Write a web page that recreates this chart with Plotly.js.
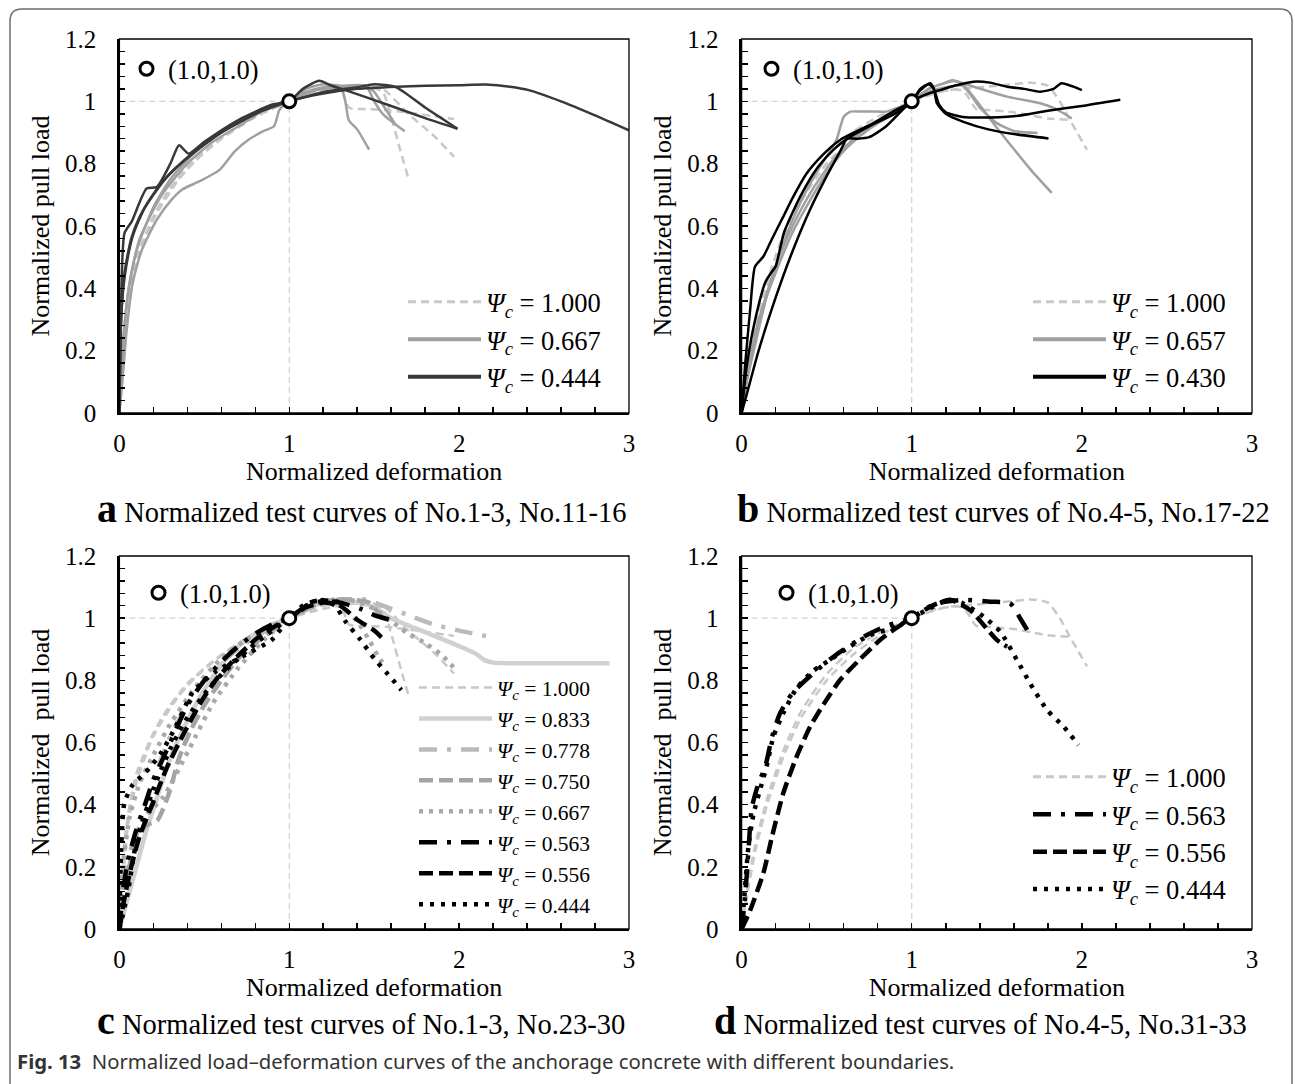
<!DOCTYPE html>
<html><head><meta charset="utf-8">
<script src="https://cdn.plot.ly/plotly-3.0.1.min.js"></script>
<style>html,body{margin:0;padding:0;background:#fff}#chart{width:1295px;height:1084px}</style>
</head><body><div id="chart"></div>
<script>
// ---------------- DATA ----------------
// Panel a : Psi_c = 1.000 (No.1-3)
const a100_1_x = [0, 0.01, 0.03, 0.06, 0.1, 0.2, 0.3, 0.45, 0.6, 0.8, 1.0, 1.15, 1.3, 1.35, 1.45, 1.57, 1.75, 1.97];
const a100_1_y = [0, 0.12, 0.28, 0.40, 0.50, 0.63, 0.72, 0.81, 0.88, 0.95, 1.0, 1.035, 1.045, 0.98, 0.975, 0.972, 0.96, 0.943];
const a100_2_x = [0, 0.02, 0.05, 0.1, 0.2, 0.35, 0.5, 0.7, 0.9, 1.0, 1.2, 1.45, 1.55, 1.6, 1.65, 1.7];
const a100_2_y = [0, 0.15, 0.33, 0.47, 0.62, 0.75, 0.84, 0.92, 0.98, 1.0, 1.03, 1.05, 1.03, 0.95, 0.85, 0.755];
const a100_3_x = [0, 0.02, 0.05, 0.12, 0.25, 0.4, 0.6, 0.8, 1.0, 1.2, 1.4, 1.55, 1.7, 1.85, 1.97];
const a100_3_y = [0, 0.18, 0.36, 0.52, 0.68, 0.79, 0.88, 0.95, 1.0, 1.04, 1.05, 1.04, 0.96, 0.89, 0.822];
// Panel a : Psi_c = 0.667
const a667_1_x = [0, 0.017, 0.04, 0.078, 0.13, 0.22, 0.3, 0.37, 0.47, 0.59, 0.68, 0.76, 0.85, 0.91, 0.94, 0.97, 1.0, 1.1, 1.2, 1.3, 1.33, 1.35, 1.4, 1.47];
const a667_1_y = [0, 0.096, 0.25, 0.417, 0.52, 0.62, 0.68, 0.717, 0.743, 0.78, 0.84, 0.877, 0.905, 0.92, 0.97, 0.99, 1.0, 1.03, 1.045, 1.048, 1.0, 0.94, 0.91, 0.845];
const a667_2_x = [0, 0.02, 0.05, 0.1, 0.2, 0.3, 0.45, 0.6, 0.8, 1.0, 1.1, 1.2, 1.3, 1.45, 1.5, 1.55, 1.68];
const a667_2_y = [0, 0.2, 0.38, 0.52, 0.66, 0.75, 0.84, 0.9, 0.96, 1.0, 1.04, 1.055, 1.05, 1.05, 1.0, 0.96, 0.904];
const a667_3_x = [0, 0.02, 0.06, 0.12, 0.25, 0.4, 0.55, 0.7, 0.85, 1.0, 1.15, 1.3, 1.45, 1.5, 1.55, 1.62];
const a667_3_y = [0, 0.22, 0.42, 0.56, 0.7, 0.8, 0.87, 0.92, 0.97, 1.0, 1.035, 1.045, 1.05, 1.03, 0.99, 0.93];
// Panel a : Psi_c = 0.444
const a444_1_x = [0, 0.005, 0.015, 0.04, 0.08, 0.15, 0.25, 0.4, 0.6, 0.8, 1.0, 1.2, 1.4, 1.63, 1.8, 2.0, 2.155, 2.3, 2.41, 2.6, 2.8, 3.0];
const a444_1_y = [0, 0.2, 0.35, 0.47, 0.57, 0.66, 0.74, 0.82, 0.9, 0.96, 1.0, 1.025, 1.04, 1.047, 1.05, 1.052, 1.054, 1.047, 1.036, 1.0, 0.955, 0.907];
const a444_2_x = [0, 0.01, 0.03, 0.073, 0.16, 0.22, 0.3, 0.351, 0.408, 0.5, 0.7, 0.9, 1.0, 1.08, 1.176, 1.25, 1.33, 1.6, 1.8, 1.99];
const a444_2_y = [0, 0.35, 0.577, 0.615, 0.72, 0.725, 0.8, 0.859, 0.832, 0.87, 0.94, 0.99, 1.0, 1.04, 1.066, 1.05, 1.036, 0.985, 0.946, 0.912];
const a444_3_x = [0, 0.01, 0.03, 0.07, 0.12, 0.2, 0.3, 0.45, 0.6, 0.8, 0.95, 1.0, 1.2, 1.4, 1.5, 1.63, 1.8, 1.99];
const a444_3_y = [0, 0.3, 0.45, 0.56, 0.63, 0.7, 0.77, 0.84, 0.9, 0.96, 0.995, 1.0, 1.03, 1.045, 1.055, 1.045, 0.98, 0.912];

// Panel b : Psi_c = 1.000 (No.4-5)
const b100_1_x = [0, 0.03, 0.08, 0.15, 0.25, 0.35, 0.5, 0.65, 0.8, 1.0, 1.2, 1.4, 1.6, 1.7, 1.8, 1.87, 1.93, 2.03];
const b100_1_y = [0, 0.12, 0.27, 0.42, 0.58, 0.7, 0.82, 0.9, 0.95, 1.0, 1.035, 1.045, 1.055, 1.06, 1.05, 1.0, 0.94, 0.845];
const b100_2_x = [0, 0.03, 0.08, 0.15, 0.25, 0.35, 0.5, 0.65, 0.8, 1.0, 1.15, 1.3, 1.38, 1.45, 1.6, 1.7, 1.8, 1.94];
const b100_2_y = [0, 0.1, 0.25, 0.4, 0.56, 0.68, 0.8, 0.88, 0.94, 1.0, 1.03, 1.035, 0.975, 0.972, 0.965, 0.955, 0.945, 0.94];
// Panel b : Psi_c = 0.657
const b657_1_x = [0, 0.03, 0.08, 0.15, 0.25, 0.35, 0.45, 0.52, 0.56, 0.6, 0.64, 0.7, 0.8, 0.85, 0.92, 1.0, 1.1, 1.2, 1.236, 1.3, 1.5, 1.7, 1.823];
const b657_1_y = [0, 0.1, 0.22, 0.38, 0.55, 0.68, 0.78, 0.84, 0.88, 0.95, 0.967, 0.967, 0.967, 0.967, 0.98, 1.0, 1.04, 1.06, 1.068, 1.055, 0.915, 0.78, 0.706];
const b657_2_x = [0, 0.04, 0.1, 0.2, 0.3, 0.4, 0.5, 0.6, 0.7, 0.8, 0.9, 1.0, 1.1, 1.25, 1.363, 1.56, 1.755, 1.85, 1.941];
const b657_2_y = [0, 0.14, 0.3, 0.45, 0.58, 0.68, 0.77, 0.84, 0.89, 0.93, 0.96, 1.0, 1.04, 1.065, 1.047, 1.015, 0.994, 0.975, 0.945];
const b657_3_x = [0, 0.05, 0.12, 0.2, 0.3, 0.42, 0.55, 0.7, 0.85, 1.0, 1.1, 1.2, 1.3, 1.4, 1.5, 1.6, 1.74];
const b657_3_y = [0, 0.18, 0.33, 0.47, 0.6, 0.72, 0.82, 0.9, 0.95, 1.0, 1.03, 1.045, 1.05, 0.98, 0.93, 0.905, 0.898];
// Panel b : Psi_c = 0.430
const b430_1_x = [0, 0.02, 0.05, 0.079, 0.128, 0.18, 0.245, 0.3, 0.383, 0.48, 0.579, 0.68, 0.775, 0.9, 1.0, 1.05, 1.108, 1.13, 1.148, 1.2, 1.3, 1.45, 1.6, 1.804];
const b430_1_y = [0, 0.15, 0.33, 0.47, 0.502, 0.56, 0.63, 0.69, 0.769, 0.83, 0.876, 0.905, 0.93, 0.97, 1.0, 1.035, 1.058, 1.04, 0.994, 0.96, 0.935, 0.91, 0.895, 0.881];
const b430_2_x = [0, 0.03, 0.08, 0.14, 0.18, 0.2, 0.25, 0.35, 0.45, 0.55, 0.65, 0.75, 0.9, 1.0, 1.05, 1.1, 1.13, 1.16, 1.2, 1.3, 1.4, 1.6, 1.8, 2.0, 2.226];
const b430_2_y = [0, 0.15, 0.3, 0.42, 0.455, 0.47, 0.58, 0.7, 0.79, 0.85, 0.89, 0.92, 0.96, 1.0, 1.04, 1.055, 1.04, 0.99, 0.965, 0.95, 0.948, 0.952, 0.97, 0.985, 1.005];
const b430_3_x = [0, 0.05, 0.1, 0.2, 0.3, 0.4, 0.5, 0.58, 0.62, 0.68, 0.75, 0.85, 1.0, 1.1, 1.167, 1.25, 1.363, 1.46, 1.56, 1.66, 1.755, 1.834, 1.88, 1.951, 2.0];
const b430_3_y = [0, 0.1, 0.2, 0.37, 0.52, 0.65, 0.76, 0.84, 0.88, 0.88, 0.885, 0.92, 1.0, 1.025, 1.036, 1.05, 1.063, 1.06, 1.047, 1.04, 1.031, 1.04, 1.058, 1.047, 1.036];

// Panel c (Psi_c = 1.000 curves are No.1-3, same as panel a)
const c833_x = [0, 0.05, 0.1, 0.15, 0.22, 0.3, 0.4, 0.5, 0.6, 0.7, 0.8, 0.9, 1.0, 1.1, 1.2, 1.3, 1.4, 1.5, 1.6, 1.8, 2.0, 2.1, 2.15, 2.2, 2.4, 2.6, 2.885];
const c833_y = [0, 0.1, 0.2, 0.3, 0.42, 0.55, 0.67, 0.77, 0.85, 0.91, 0.95, 0.98, 1.0, 1.03, 1.05, 1.055, 1.05, 1.035, 1.0, 0.955, 0.91, 0.885, 0.865, 0.857, 0.855, 0.855, 0.855];
const c778_x = [0, 0.04, 0.1, 0.2, 0.3, 0.4, 0.5, 0.65, 0.8, 1.0, 1.2, 1.35, 1.45, 1.55, 1.7, 1.85, 2.0, 2.18];
const c778_y = [0, 0.15, 0.3, 0.48, 0.62, 0.72, 0.8, 0.88, 0.94, 1.0, 1.05, 1.06, 1.06, 1.04, 1.01, 0.98, 0.96, 0.94];
const c750_x = [0, 0.03, 0.08, 0.15, 0.225, 0.3, 0.347, 0.42, 0.5, 0.6, 0.7, 0.8, 0.9, 1.0, 1.1, 1.2, 1.3, 1.4, 1.47, 1.55];
const c750_y = [0, 0.12, 0.25, 0.33, 0.351, 0.45, 0.544, 0.64, 0.72, 0.8, 0.87, 0.92, 0.96, 1.0, 1.035, 1.055, 1.06, 1.058, 1.05, 1.0];
const c667_1_x = [0, 0.03, 0.08, 0.15, 0.26, 0.41, 0.55, 0.7, 0.85, 1.0, 1.2, 1.35, 1.5, 1.6, 1.7, 1.8, 1.9, 1.98];
const c667_1_y = [0, 0.15, 0.28, 0.36, 0.426, 0.578, 0.726, 0.84, 0.93, 1.0, 1.055, 1.06, 1.03, 0.99, 0.95, 0.92, 0.88, 0.834];
const c667_2_x = [0, 0.02, 0.06, 0.12, 0.2, 0.3, 0.45, 0.6, 0.8, 1.0, 1.2, 1.3, 1.4, 1.47, 1.52, 1.57];
const c667_2_y = [0, 0.2, 0.36, 0.47, 0.56, 0.66, 0.78, 0.87, 0.95, 1.0, 1.05, 1.04, 0.99, 0.93, 0.88, 0.84];
const c563_x = [0, 0.02, 0.05, 0.1, 0.15, 0.2, 0.3, 0.4, 0.5, 0.6, 0.7, 0.8, 0.9, 1.0, 1.1, 1.2, 1.3, 1.42, 1.5, 1.59];
const c563_y = [0, 0.12, 0.22, 0.32, 0.4, 0.48, 0.6, 0.72, 0.8, 0.86, 0.91, 0.95, 0.98, 1.0, 1.04, 1.055, 1.05, 1.03, 1.01, 0.995];
const c556_x = [0, 0.03, 0.07, 0.12, 0.2, 0.28, 0.38, 0.48, 0.58, 0.7, 0.82, 0.92, 1.0, 1.1, 1.2, 1.3, 1.4, 1.5, 1.567];
const c556_y = [0, 0.1, 0.2, 0.3, 0.41, 0.52, 0.63, 0.73, 0.81, 0.88, 0.94, 0.975, 1.0, 1.035, 1.05, 1.04, 0.995, 0.96, 0.925];
const c444_1_x = [0, 0.01, 0.029, 0.078, 0.127, 0.176, 0.25, 0.33, 0.432, 0.566, 0.725, 0.896, 1.0, 1.08, 1.15, 1.2, 1.27, 1.33, 1.42, 1.5, 1.58, 1.66];
const c444_1_y = [0, 0.25, 0.405, 0.464, 0.49, 0.517, 0.57, 0.65, 0.762, 0.828, 0.877, 0.93, 1.0, 1.04, 1.055, 1.058, 1.04, 0.99, 0.93, 0.87, 0.82, 0.769];
const c444_2_x = [0, 0.05, 0.1, 0.2, 0.3, 0.4, 0.55, 0.7, 0.85, 1.0, 1.15, 1.25, 1.3];
const c444_2_y = [0, 0.12, 0.28, 0.45, 0.58, 0.68, 0.79, 0.87, 0.94, 1.0, 1.055, 1.055, 1.05];

// Panel d (Psi_c = 1.000 curves are No.4-5, same as panel b)
const d563_x = [0, 0.02, 0.04, 0.06, 0.1, 0.138, 0.18, 0.226, 0.3, 0.422, 0.55, 0.716, 0.85, 1.0, 1.08, 1.147, 1.3, 1.461, 1.578, 1.637, 1.696];
const d563_y = [0, 0.1, 0.25, 0.39, 0.47, 0.52, 0.62, 0.694, 0.76, 0.823, 0.88, 0.94, 0.975, 1.0, 1.03, 1.048, 1.059, 1.053, 1.048, 1.0, 0.946];
const d556_x = [0, 0.05, 0.128, 0.18, 0.245, 0.32, 0.403, 0.49, 0.579, 0.7, 0.814, 0.9, 1.0, 1.108, 1.225, 1.343, 1.42, 1.5, 1.56];
const d556_y = [0, 0.06, 0.18, 0.3, 0.437, 0.55, 0.651, 0.73, 0.801, 0.87, 0.93, 0.965, 1.0, 1.037, 1.059, 1.026, 0.98, 0.93, 0.908];
const d444_x = [0, 0.01, 0.04, 0.07, 0.108, 0.15, 0.187, 0.25, 0.324, 0.42, 0.52, 0.64, 0.755, 0.912, 1.0, 1.1, 1.216, 1.3, 1.422, 1.52, 1.618, 1.696, 1.795, 1.893, 1.98];
const d444_y = [0, 0.06, 0.265, 0.37, 0.447, 0.53, 0.619, 0.7, 0.775, 0.83, 0.866, 0.91, 0.946, 0.973, 1.0, 1.03, 1.059, 1.048, 1.005, 0.957, 0.866, 0.79, 0.705, 0.651, 0.592];

// Normalisation point and ticks
const refX = [1.0];
const refY = [1.0];
const refLabel = '(1.0,1.0)';
const xTickVals = [0, 1, 2, 3];
const xTickText = ['0', '1', '2', '3'];
const yTickVals = [0, 0.2, 0.4, 0.6, 0.8, 1.0, 1.2];
const yTickText = ['0', '0.2', '0.4', '0.6', '0.8', '1', '1.2'];
const legendA = ['1.000', '0.667', '0.444'];
const legendB = ['1.000', '0.657', '0.430'];
const legendC = ['1.000', '0.833', '0.778', '0.750', '0.667', '0.563', '0.556', '0.444'];
const legendD = ['1.000', '0.563', '0.556', '0.444'];
const panelLetters = ['a', 'b', 'c', 'd'];
const panelCaptions = ['Normalized test curves of No.1-3, No.11-16', 'Normalized test curves of No.4-5, No.17-22',
                       'Normalized test curves of No.1-3, No.23-30', 'Normalized test curves of No.4-5, No.31-33'];
const xTitle = 'Normalized deformation';
const yTitles = ['Normalized pull load', 'Normalized pull load', 'Normalized\u00a0 pull load', 'Normalized\u00a0 pull load'];
const figCaptionBold = 'Fig. 13';
const figCaption = 'Normalized load\u2013deformation curves of the anchorage concrete with different boundaries.';

// ---------------- STYLE ----------------
const W = 1295, H = 1084;
const SERIF = 'Liberation Serif, Times New Roman, serif';
const ST = {
  light:  {color: '#c8c8c8', width: 2.5, dash: '8px,5px'},
  mid:    {color: '#a0a0a0', width: 2.5, dash: 'solid'},
  dark:   {color: '#383838', width: 2.5, dash: 'solid'},
  black:  {color: '#000000', width: 2.5, dash: 'solid'},
  c833:   {color: '#d0d0d0', width: 4.5, dash: 'solid'},
  c778:   {color: '#bababa', width: 4.5, dash: '18px,10px,4px,10px'},
  c750:   {color: '#a4a4a4', width: 4.5, dash: '14px,6px'},
  c667:   {color: '#a8a8a8', width: 4.5, dash: '4px,6px'},
  k563:   {color: '#000000', width: 4.5, dash: '18px,10px,4px,10px'},
  k556:   {color: '#000000', width: 4.5, dash: '14px,6px'},
  k444:   {color: '#000000', width: 4.5, dash: '4px,7px'}
};
const AX = ['', '2', '3', '4'];

const traces = [];
function curve(x, y, p, st) {
  traces.push({type: 'scatter', mode: 'lines', x: x, y: y, xaxis: 'x' + AX[p], yaxis: 'y' + AX[p],
    line: Object.assign({shape: 'spline', smoothing: 0.6}, st), showlegend: false, hoverinfo: 'skip'});
}
function legItem(label, p, st, legendId, k) {
  traces.push({type: 'scatter', mode: 'lines', x: [null], y: [null], xaxis: 'x' + AX[p], yaxis: 'y' + AX[p],
    line: st, name: '<i>\u03A8<sub>c</sub></i> = ' + label, legend: legendId, legendgroup: legendId + '_' + k,
    showlegend: true, hoverinfo: 'skip'});
}

// panel a
[[a100_1_x, a100_1_y], [a100_2_x, a100_2_y], [a100_3_x, a100_3_y]].forEach(c => curve(c[0], c[1], 0, ST.light));
[[a667_1_x, a667_1_y], [a667_2_x, a667_2_y], [a667_3_x, a667_3_y]].forEach(c => curve(c[0], c[1], 0, ST.mid));
[[a444_1_x, a444_1_y], [a444_2_x, a444_2_y], [a444_3_x, a444_3_y]].forEach(c => curve(c[0], c[1], 0, ST.dark));
// panel b
[[b100_1_x, b100_1_y], [b100_2_x, b100_2_y]].forEach(c => curve(c[0], c[1], 1, ST.light));
[[b657_1_x, b657_1_y], [b657_2_x, b657_2_y], [b657_3_x, b657_3_y]].forEach(c => curve(c[0], c[1], 1, ST.mid));
[[b430_1_x, b430_1_y], [b430_2_x, b430_2_y], [b430_3_x, b430_3_y]].forEach(c => curve(c[0], c[1], 1, ST.black));
// panel c
[[a100_1_x, a100_1_y], [a100_2_x, a100_2_y], [a100_3_x, a100_3_y]].forEach(c => curve(c[0], c[1], 2, ST.light));
curve(c833_x, c833_y, 2, ST.c833);
curve(c778_x, c778_y, 2, ST.c778);
curve(c750_x, c750_y, 2, ST.c750);
curve(c667_1_x, c667_1_y, 2, ST.c667);
curve(c667_2_x, c667_2_y, 2, ST.c667);
curve(c563_x, c563_y, 2, ST.k563);
curve(c556_x, c556_y, 2, ST.k556);
curve(c444_1_x, c444_1_y, 2, ST.k444);
curve(c444_2_x, c444_2_y, 2, ST.k444);
// panel d
[[b100_1_x, b100_1_y], [b100_2_x, b100_2_y]].forEach(c => curve(c[0], c[1], 3, ST.light));
curve(d563_x, d563_y, 3, ST.k563);
curve(d556_x, d556_y, 3, ST.k556);
curve(d444_x, d444_y, 3, ST.k444);

// legend entries (samples a little thicker, as in the figure)
const legA = [Object.assign({}, ST.light, {width: 3}), Object.assign({}, ST.mid, {width: 4}), Object.assign({}, ST.dark, {width: 4})];
legendA.forEach((l, k) => legItem(l, 0, legA[k], 'legend', k));
const legB = [Object.assign({}, ST.light, {width: 3}), Object.assign({}, ST.mid, {width: 4}), Object.assign({}, ST.black, {width: 4})];
legendB.forEach((l, k) => legItem(l, 1, legB[k], 'legend2', k));
const legC = [ST.light, ST.c833, ST.c778, ST.c750, ST.c667, ST.k563, ST.k556, ST.k444];
legendC.forEach((l, k) => legItem(l, 2, legC[k], 'legend3', k));
const legD = [Object.assign({}, ST.light, {width: 3}), ST.k563, ST.k556, ST.k444];
legendD.forEach((l, k) => legItem(l, 3, legD[k], 'legend4', k));

// normalisation point markers
[0, 1, 2, 3].forEach(p => {
  traces.push({type: 'scatter', mode: 'markers', x: refX, y: refY, xaxis: 'x' + AX[p], yaxis: 'y' + AX[p],
    marker: {symbol: 'circle', size: 13, color: '#ffffff', line: {color: '#000000', width: 3}},
    name: refLabel, legend: 'legend' + (5 + p), showlegend: true, cliponaxis: false, hoverinfo: 'skip'});
});

// ---------------- LAYOUT ----------------
const px = v => v / W;
const py = v => 1 - v / H;
const xDom = [[119.4, 629], [741.6, 1252], [119.4, 629], [741.6, 1252]];
const yDom = [[413, 39], [413, 39], [929, 556], [929, 556]];

const layout = {
  width: W, height: H, margin: {l: 0, r: 0, t: 0, b: 0},
  paper_bgcolor: '#ffffff', plot_bgcolor: '#ffffff',
  font: {family: SERIF, color: '#000000'},
  showlegend: true, shapes: [], annotations: []
};
const tickFont = {family: SERIF, size: 25, color: '#000000'};
[0, 1, 2, 3].forEach(p => {
  const xa = 'xaxis' + AX[p], ya = 'yaxis' + AX[p];
  layout[xa] = {
    domain: [px(xDom[p][0]), px(xDom[p][1])], anchor: 'y' + AX[p], range: [0, 3],
    tickmode: 'array', tickvals: xTickVals, ticktext: xTickText,
    ticks: 'inside', ticklen: 6, tickwidth: 1.5, tickcolor: '#000000',
    minor: {tick0: 0, dtick: 0.2, ticks: 'inside', ticklen: 6, tickwidth: 1.5, tickcolor: '#000000', showgrid: false},
    showline: true, linewidth: 2.2, linecolor: '#000000', showgrid: false, zeroline: false,
    tickfont: tickFont, ticklabelstandoff: 7, fixedrange: true,
    title: {text: xTitle, font: {family: SERIF, size: 26, color: '#000000'}, standoff: 2}
  };
  layout[ya] = {
    domain: [py(yDom[p][0]), py(yDom[p][1])], anchor: 'x' + AX[p], range: [0, 1.2],
    tickmode: 'array', tickvals: yTickVals, ticktext: yTickText,
    ticks: 'inside', ticklen: 6, tickwidth: 1.5, tickcolor: '#000000',
    minor: {tick0: 0, dtick: 0.04, ticks: 'inside', ticklen: 6, tickwidth: 1.5, tickcolor: '#000000', showgrid: false},
    showline: true, linewidth: 2.2, linecolor: '#000000', showgrid: false, zeroline: false,
    tickfont: tickFont, ticklabelstandoff: 16, fixedrange: true,
    title: {text: yTitles[p], font: {family: SERIF, size: 26, color: '#000000'}, standoff: 8}
  };
  // frame
  layout.shapes.push({type: 'rect', xref: 'x' + AX[p] + ' domain', yref: 'y' + AX[p] + ' domain',
    x0: 0, x1: 1, y0: 0, y1: 1, line: {color: '#000000', width: 1.3}, layer: 'above'});
  // guide lines to the normalisation point
  layout.shapes.push({type: 'line', xref: 'x' + AX[p], yref: 'y' + AX[p], x0: 0, x1: refX[0], y0: refY[0], y1: refY[0],
    line: {color: '#d4d4d4', width: 1.3, dash: '6px,4px'}, layer: 'below'});
  layout.shapes.push({type: 'line', xref: 'x' + AX[p], yref: 'y' + AX[p], x0: refX[0], x1: refX[0], y0: 0, y1: refY[0],
    line: {color: '#d4d4d4', width: 1.3, dash: '6px,4px'}, layer: 'below'});
});

// legends
const legBase = {bgcolor: 'rgba(0,0,0,0)', borderwidth: 0, xanchor: 'left', yanchor: 'top',
  traceorder: 'grouped', tracegroupgap: 0, itemclick: false, itemdoubleclick: false};
layout.legend  = Object.assign({}, legBase, {x: px(403), y: py(278), itemwidth: 73, font: {family: SERIF, size: 26.5, color: '#000'}});
layout.legend2 = Object.assign({}, legBase, {x: px(1028), y: py(278), itemwidth: 73, font: {family: SERIF, size: 26.5, color: '#000'}});
layout.legend3 = Object.assign({}, legBase, {x: px(414), y: py(667), itemwidth: 73, font: {family: SERIF, size: 21.5, color: '#000'}});
layout.legend4 = Object.assign({}, legBase, {x: px(1028), y: py(753), itemwidth: 73, font: {family: SERIF, size: 26.5, color: '#000'}});
const mk = [[125, 45], [750, 45], [137, 569], [765, 569]];
[5, 6, 7, 8].forEach((n, i) => {
  layout['legend' + n] = Object.assign({}, legBase, {x: px(mk[i][0]), y: py(mk[i][1]), itemwidth: 33,
    font: {family: SERIF, size: 26.5, color: '#000'}});
});

// captions
const capPos = [[95, 508], [735, 508], [95, 1020], [712, 1020]];
panelLetters.forEach((L, i) => {
  layout.annotations.push({xref: 'paper', yref: 'paper', x: px(capPos[i][0]), y: py(capPos[i][1]),
    xanchor: 'left', yanchor: 'middle', showarrow: false,
    text: '<span style="font-size:40px"><b>' + L + '</b></span> ' + panelCaptions[i],
    font: {family: SERIF, size: 28.5, color: '#000000'}});
});
layout.annotations.push({xref: 'paper', yref: 'paper', x: px(15), y: py(1061), xanchor: 'left', yanchor: 'middle',
  showarrow: false, text: '<b>' + figCaptionBold + '</b>  ' + figCaption,
  font: {family: 'Noto Sans, Open Sans, sans-serif', size: 20.3, color: '#333333'}});

// outer rounded frame
const r = 12, L0 = 10, R0 = 1292, T0 = 9;
layout.shapes.push({type: 'path', xref: 'paper', yref: 'paper', layer: 'above',
  path: 'M' + px(L0) + ',' + py(H + 10) + ' L' + px(L0) + ',' + py(T0 + r) + ' Q' + px(L0) + ',' + py(T0) + ' ' + px(L0 + r) + ',' + py(T0) +
        ' L' + px(R0 - r) + ',' + py(T0) + ' Q' + px(R0) + ',' + py(T0) + ' ' + px(R0) + ',' + py(T0 + r) + ' L' + px(R0) + ',' + py(H + 10),
  line: {color: '#6e6e6e', width: 1.5}});

Plotly.newPlot('chart', traces, layout, {staticPlot: true, displayModeBar: false});
</script></body></html>
